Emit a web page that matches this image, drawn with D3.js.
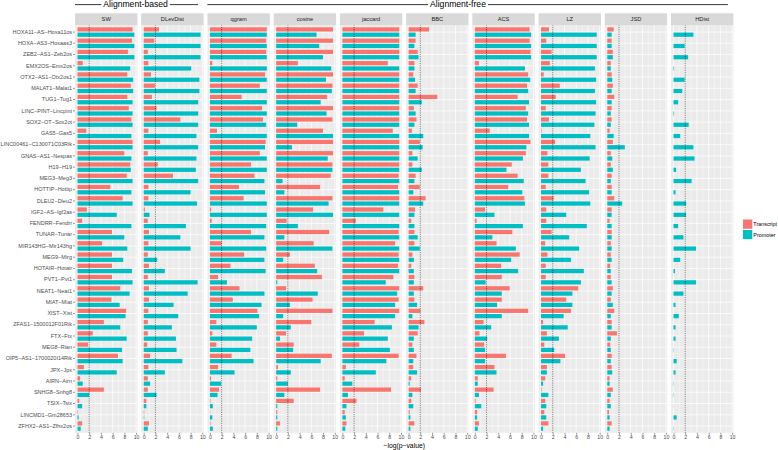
<!DOCTYPE html>
<html>
<head>
<meta charset="utf-8">
<script src="https://cdn.jsdelivr.net/npm/d3@7"></script>
<style>
  html, body { margin: 0; padding: 0; background: #ffffff; }
  svg { display: block; font-family: "Liberation Sans", Arial, Helvetica, sans-serif; }
</style>
</head>
<body>
<svg id="chart" width="778" height="450"></svg>
<script>
// ---------------- DATA ----------------
const categories = [
  "HOXA11−AS−Hoxa11os", "HOXA−AS3−Hoxaas3", "ZEB2−AS1−Zeb2os", "EMX2OS−Emx2os",
  "OTX2−AS1−Otx2os1", "MALAT1−Malat1", "TUG1−Tug1", "LINC−PINT−Lincpint",
  "SOX2−OT−Sox2ot", "GAS5−Gas5", "LINC00461−C130071C03Rik", "GNAS−AS1−Nespas",
  "H19−H19", "MEG3−Meg3", "HOTTIP−Hottip", "DLEU2−Dleu2", "IGF2−AS−Igf2as",
  "FENDRR−Fendrr", "TUNAR−Tunar", "MIR143HG−Mir143hg", "MEG9−Mirg", "HOTAIR−Hotair",
  "PVT1−Pvt1", "NEAT1−Neat1", "MIAT−Miat", "XIST−Xist", "ZFAS1−1500012F01Rik",
  "FTX−Ftx", "MEG8−Rian", "OIP5−AS1−1700020I14Rik", "JPX−Jpx", "AIRN−Airn",
  "SNHG8−Snhg8", "TSIX−Tsix", "LINCMD1−Gm28653", "ZFHX2−AS1−Zfhx2os"
];
const methods = ["SW", "DLevDist", "qgram", "cosine", "jaccard", "BBC", "ACS", "LZ", "JSD", "HDist"];
const series = ["Transcript", "Promoter"];
const groupNames = ["Alignment-based", "Alignment-free"];
const groupMethods = [["SW", "DLevDist"], ["qgram", "cosine", "jaccard", "BBC", "ACS", "LZ", "JSD", "HDist"]];
const xTicks = [0, 2, 4, 6, 8, 10];
const threshold = 2;
const axisTitle = "−log(p−value)";

const swTranscript = [9.4,9.3,8.6,0.9,8.5,9.1,8.5,8.75,9.2,1.5,9.4,8.0,9.0,8.4,5.6,7.7,1.6,0.8,5.9,4.2,5.9,5.9,5.9,7.3,5.8,8.3,4.5,2.6,1.8,6.9,1.1,0.45,4.5,0.3,0.1,0.8];
const swPromoter   = [9.7,9.7,9.7,9.0,9.5,9.5,9.4,9.4,9.4,9.2,9.4,9.2,9.1,9.4,9.2,9.4,6.7,9.2,8.0,8.5,7.8,9.3,9.4,8.9,7.2,8.2,7.3,8.4,7.6,7.7,6.7,0.9,2.0,0.8,0.2,0.55];
const dlevTranscript = [2.6,1.8,0.7,0.8,1.25,1.9,1.4,2.2,6.25,0.8,2.8,0.7,2.4,5.0,0.8,0.8,0.2,0.7,0.9,0.8,0.7,0.9,0.7,0.9,0.9,0.8,0.7,0.7,0.6,1.1,0.8,0.7,0.7,0.45,0.1,0.9];
const dlevPromoter   = [9.7,9.7,9.7,8.1,9.5,9.5,9.3,9.3,9.3,9.0,9.3,9.0,8.9,9.3,8.0,9.1,1.0,7.2,6.25,8.0,2.3,3.6,9.2,7.5,5.1,5.9,4.8,5.5,5.6,6.6,3.6,1.1,2.2,0.45,0.1,0.7];
const qgramTranscript = [9.7,9.6,9.6,0.4,9.4,8.5,5.4,8.9,9.05,1.2,9.5,8.5,7.0,7.6,4.95,5.75,0.2,0.3,7.0,2.0,5.85,3.5,1.4,5.05,3.9,8.1,1.1,0.4,1.1,3.7,1.4,0.2,1.55,0.1,0.05,0.1];
const qgramPromoter   = [9.7,9.7,9.7,9.7,9.7,9.7,9.7,9.7,9.6,9.7,9.4,9.7,9.7,9.3,9.4,9.7,9.7,9.6,9.3,9.6,9.3,9.5,2.9,9.3,8.8,8.4,8.0,7.2,6.9,7.45,4.2,1.9,1.3,0.5,0.4,0.5];
const cosineTranscript = [9.7,9.7,9.7,3.7,9.7,9.6,8.7,9.7,9.6,8.0,9.7,9.7,9.6,9.3,7.5,9.6,6.3,1.8,9.05,6.4,2.35,6.6,7.8,1.7,6.2,9.6,6.0,1.7,3.0,9.5,0.3,0.2,7.5,3.0,0.2,0.65];
const cosinePromoter   = [6.9,7.35,8.0,9.4,8.5,9.5,7.6,8.6,3.6,9.7,2.7,8.8,9.6,1.1,1.4,8.95,9.7,3.7,1.4,9.6,1.2,7.0,0.2,7.1,2.35,1.2,2.5,0.65,2.9,7.6,2.5,2.0,1.4,0.2,0.2,0.2];
const jaccardTranscript = [9.7,9.7,9.7,7.75,9.7,9.7,9.7,9.7,9.7,8.6,9.7,9.7,9.7,9.6,9.5,9.7,7.0,2.3,9.6,9.0,9.6,9.5,8.7,9.7,9.6,9.7,5.5,3.7,2.9,9.6,0.6,0.4,8.3,2.4,0.4,0.7];
const jaccardPromoter   = [9.7,9.7,9.7,9.7,9.7,9.7,9.7,9.7,9.7,9.7,9.7,9.7,9.7,9.7,9.7,9.7,9.7,9.7,9.7,9.7,9.7,9.7,7.4,9.35,9.0,9.0,8.45,7.75,8.1,7.5,5.7,1.7,0.95,0.7,0.6,0.5];
const bbcTranscript = [3.5,1.2,1.55,1.0,0.8,1.55,4.9,0.9,1.35,0.55,1.9,0.65,0.65,1.2,1.9,2.9,1.1,0.45,1.0,1.0,0.65,0.45,1.0,2.5,1.0,2.0,2.7,1.55,0.65,1.35,0.8,0.45,2.1,0.45,0.2,1.0];
const bbcPromoter   = [1.2,1.0,1.7,1.0,1.1,1.2,2.25,1.2,1.0,2.5,2.4,1.55,2.25,1.0,0.8,2.5,1.0,1.0,1.55,1.9,0.9,0.9,0.9,0.9,1.45,0.65,1.7,0.9,0.9,0.8,1.45,0.2,0.65,0.8,0.3,0.3];
const acsTranscript = [9.35,9.35,9.5,0.7,9.1,8.9,7.3,8.7,8.9,2.55,9.5,8.7,6.3,7.3,5.7,8.45,1.75,0.3,6.4,3.7,7.65,4.5,4.6,5.95,4.6,9.1,1.5,0.8,1.6,5.3,3.35,0.5,3.2,0.15,0.4,0.7];
const acsPromoter   = [9.6,9.6,9.6,8.55,9.45,9.1,9.25,9.1,9.25,9.25,8.8,8.2,5.4,8.35,8.1,8.55,3.35,8.2,3.0,7.0,6.2,7.4,1.85,4.6,3.8,4.6,2.8,2.1,1.75,1.75,3.7,0.5,0.7,1.1,0.4,0.5];
const lzTranscript = [1.35,0.9,1.8,1.5,0.45,3.2,2.5,0.8,1.35,0.1,2.4,1.1,1.25,1.25,0.8,2.15,0.9,0.9,1.8,0.7,1.1,0.8,0.8,6.35,4.3,5.1,0.35,1.0,0.55,4.1,1.0,0.7,0.1,0.7,0.55,1.25];
const lzPromoter   = [9.5,9.5,9.5,9.2,9.4,9.2,9.4,9.3,9.1,8.4,9.3,8.3,6.8,7.6,8.2,8.4,4.3,7.8,4.8,6.5,5.1,7.3,6.8,5.35,5.35,3.85,4.55,3.05,2.25,3.3,1.0,0.35,1.25,0.9,0.9,0.35];
const jsdTranscript = [1.1,0.75,0.95,0.6,0.75,0.95,1.2,0.75,0.75,0.4,0.95,0.6,0.6,0.75,0.75,1.2,0.75,0.4,0.75,0.6,0.6,0.5,0.6,0.95,0.6,1.2,0.75,1.65,0.5,0.75,0.75,0.4,0.95,0.4,0.3,0.75];
const jsdPromoter   = [0.75,0.75,0.95,0.6,0.85,0.75,0.75,0.6,0.6,1.1,3.0,0.85,0.95,0.6,0.75,2.55,0.75,0.75,0.75,0.75,0.75,0.6,0.75,0.75,0.95,0.6,0.75,0.6,0.6,0.6,0.85,0.4,0.6,0.6,0.4,0.4];
const hdistTranscript = [0,0,0,0,0,0,0,0,0,0,0,0,0,0,0,0,0,0,0,0,0,0,0,0,0,0,0,0,0,0,0,0,0,0,0,0];
const hdistPromoter   = [3.4,1.9,2.5,0.1,1.9,1.5,0.8,0.1,2.6,1.15,3.4,3.6,0.45,3.1,0.35,2.15,2.15,0.8,1.7,3.85,1.15,0.25,3.85,1.7,0.35,0.9,0.35,0.35,0.05,0.55,0.35,0.05,0.05,0.02,0.55,0.05];

const valuesByMethod = {
  SW: [swTranscript, swPromoter],
  DLevDist: [dlevTranscript, dlevPromoter],
  qgram: [qgramTranscript, qgramPromoter],
  cosine: [cosineTranscript, cosinePromoter],
  jaccard: [jaccardTranscript, jaccardPromoter],
  BBC: [bbcTranscript, bbcPromoter],
  ACS: [acsTranscript, acsPromoter],
  LZ: [lzTranscript, lzPromoter],
  JSD: [jsdTranscript, jsdPromoter],
  HDist: [hdistTranscript, hdistPromoter]
};

const rows = [];
methods.forEach(m => {
  series.forEach((s, si) => {
    categories.forEach((c, ci) => {
      rows.push({ method: m, series: s, category: c, value: valuesByMethod[m][si][ci] });
    });
  });
});

// ---------------- LAYOUT ----------------
const svg = d3.select("#chart");
const panelTop = 25.3, panelBottom = 432.8;
const stripTop = 13.3;

const xPanel = d3.scaleBand().domain(methods).range([75, 733.4]).paddingInner(0.058);
const pw = xPanel.bandwidth();
const x = d3.scaleLinear().domain([-0.42, 10.22]).range([0, pw]);

const y = d3.scaleBand().domain(categories).range([panelTop, panelBottom]).paddingInner(0).paddingOuter(0.1);
const step = y.step();
const ySub = d3.scaleBand().domain(series).range([-0.47 * step, 0.47 * step]);
const barH = ySub.bandwidth() * 0.8;

const color = d3.scaleOrdinal().domain(series).range(["#F8766D", "#00BFC4"]);

const fontSmall = 5.7;
const textCol = "#4D4D4D";

// ---------------- PANELS ----------------
methods.forEach(m => {
  const g = svg.append("g").attr("transform", `translate(${xPanel(m)},0)`);
  g.append("rect").attr("x", 0).attr("y", panelTop).attr("width", pw).attr("height", panelBottom - panelTop)
    .attr("fill", "#EBEBEB");
  g.selectAll(".vminor").data([1, 3, 5, 7, 9]).join("line")
    .attr("x1", d => x(d)).attr("x2", d => x(d)).attr("y1", panelTop).attr("y2", panelBottom)
    .attr("stroke", "#FFFFFF").attr("stroke-width", 0.35);
  g.selectAll(".vmajor").data(xTicks).join("line")
    .attr("x1", d => x(d)).attr("x2", d => x(d)).attr("y1", panelTop).attr("y2", panelBottom)
    .attr("stroke", "#FFFFFF").attr("stroke-width", 0.7);
  g.selectAll(".hmajor").data(categories).join("line")
    .attr("x1", 0).attr("x2", pw)
    .attr("y1", d => y(d) + y.bandwidth() / 2).attr("y2", d => y(d) + y.bandwidth() / 2)
    .attr("stroke", "#FFFFFF").attr("stroke-width", 0.7);
  g.selectAll(".bar").data(rows.filter(r => r.method === m)).join("rect")
    .attr("x", x(0))
    .attr("y", d => y(d.category) + y.bandwidth() / 2 + ySub(d.series) + (ySub.bandwidth() - barH) / 2)
    .attr("width", d => Math.max(0, x(d.value) - x(0)))
    .attr("height", barH)
    .attr("fill", d => color(d.series));
  g.append("line").attr("x1", x(threshold)).attr("x2", x(threshold))
    .attr("y1", panelTop).attr("y2", panelBottom)
    .attr("stroke", "#000000").attr("stroke-width", 0.6).attr("stroke-dasharray", "0.8,1");
  g.append("rect").attr("x", 0).attr("y", stripTop).attr("width", pw).attr("height", panelTop - stripTop)
    .attr("fill", "#D9D9D9");
  g.append("text").attr("x", pw / 2).attr("y", (stripTop + panelTop) / 2 + 2)
    .attr("text-anchor", "middle").attr("font-size", fontSmall).attr("fill", "#1A1A1A").text(m);
  const ax = g.append("g").attr("transform", `translate(0,${panelBottom})`)
    .call(d3.axisBottom(x).tickValues(xTicks).tickSize(2).tickPadding(1).tickFormat(d3.format("d")));
  ax.select(".domain").remove();
  ax.selectAll(".tick line").attr("stroke", "#333333").attr("stroke-width", 0.5);
  ax.selectAll(".tick text").attr("font-size", 5.2).attr("fill", textCol).attr("font-family", null);
});

// y axis
const yAx = svg.append("g").attr("transform", `translate(${xPanel(methods[0])},0)`)
  .call(d3.axisLeft(y).tickSize(2).tickPadding(1));
yAx.select(".domain").remove();
yAx.selectAll(".tick line").attr("stroke", "#333333").attr("stroke-width", 0.5);
yAx.selectAll(".tick text").attr("font-size", 5.5).attr("fill", textCol).attr("font-family", null);

// axis title
svg.append("text")
  .attr("x", (xPanel(methods[0]) + xPanel(methods[methods.length - 1]) + pw) / 2)
  .attr("y", 448)
  .attr("text-anchor", "middle").attr("font-size", 6.8).attr("fill", "#000000")
  .text(axisTitle);

// ---------------- GROUP HEADERS ----------------
const headerY = 4.6;
const headerCenters = [135.6, 458];
groupNames.forEach((name, i) => {
  const ms = groupMethods[i];
  const left = xPanel(ms[0]);
  const right = xPanel(ms[ms.length - 1]) + pw - 5.5;
  const t = svg.append("text").attr("x", headerCenters[i]).attr("y", 7.4)
    .attr("text-anchor", "middle").attr("font-size", 8.6).attr("fill", "#000000").text(name);
  const w = t.node().getComputedTextLength();
  const c = headerCenters[i];
  svg.append("line").attr("x1", left).attr("x2", c - w / 2 - 2).attr("y1", headerY).attr("y2", headerY)
    .attr("stroke", "#222222").attr("stroke-width", 0.9);
  svg.append("line").attr("x1", c + w / 2 + 2).attr("x2", right).attr("y1", headerY).attr("y2", headerY)
    .attr("stroke", "#222222").attr("stroke-width", 0.9);
});

// ---------------- LEGEND ----------------
const legend = svg.append("g").attr("transform", "translate(743,219.5)");
series.forEach((s, i) => {
  const row = legend.append("g").attr("transform", `translate(0,${i * 10.4})`);
  row.append("rect").attr("x", 0).attr("y", 0).attr("width", 9.3).attr("height", 9.3).attr("fill", color(s));
  row.append("text").attr("x", 10.3).attr("y", 6.8).attr("font-size", 5.4).attr("fill", "#000000").text(s);
});
</script>
</body>
</html>
